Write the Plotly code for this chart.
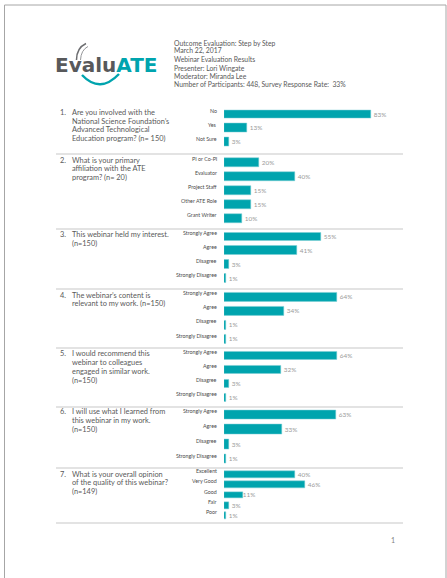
import plotly.graph_objects as go

W, H = 447, 578
TEAL = "#00a4ae"
GRAY_TXT = "#595959"
FONT = "Lato, Open Sans, sans-serif"

# ---- data ----
q1_labels = ["No", "Yes", "Not Sure"]
q1_values = [83, 13, 3]

q2_labels = ["PI or Co-PI", "Evaluator", "Project Staff", "Other ATE Role", "Grant Writer"]
q2_values = [20, 40, 15, 15, 10]

agree_labels = ["Strongly Agree", "Agree", "Disagree", "Strongly Disagree"]
q3_values = [55, 41, 3, 1]
q4_values = [64, 34, 1, 1]
q5_values = [64, 32, 3, 1]
q6_values = [63, 33, 3, 1]

q7_labels = ["Excellent", "Very Good", "Good", "Fair", "Poor"]
q7_values = [40, 46, 11, 3, 1]

questions = [
    ["Are you involved with the", "National Science Foundation’s",
     "Advanced Technological", "Education program? (n= 150)"],
    ["What is your primary", "affiliation with the ATE", "program? (n= 20)"],
    ["This webinar held my interest.", "(n=150)"],
    ["The webinar’s content is", "relevant to my work. (n=150)"],
    ["I would recommend this", "webinar to colleagues",
     "engaged in similar work.", "(n=150)"],
    ["I will use what I learned from", "this webinar in my work.", "(n=150)"],
    ["What is your overall opinion", "of the quality of this webinar?", "(n=149)"],
]

header_lines = [
    "Outcome Evaluation: Step by Step",
    "March 22, 2017",
    "Webinar Evaluation Results",
    "Presenter: Lori Wingate",
    "Moderator: Miranda Lee",
    "Number of Participants: 448, Survey Response Rate:  33%",
]

sections = [
    (q1_labels, q1_values),
    (q2_labels, q2_values),
    (agree_labels, q3_values),
    (agree_labels, q4_values),
    (agree_labels, q5_values),
    (agree_labels, q6_values),
    (q7_labels, q7_values),
]

# pixel band of each bar block (top, bottom) and first text line centre
bands = [(107.3, 149), (155, 225.3), (229.75, 285.25), (289.65, 346.05),
         (348.7, 404.7), (407.3, 466.4), (469.1, 520.9)]
first_line = [112.3, 160, 234.3, 295, 354, 411.7, 474]
LINE_STEP = 8.75
separators = [154, 229, 289, 348, 407, 468, 523]


def px(x):
    return x / W


def py(y):
    return 1 - y / H


def pt(x, y):
    return f"{px(x):.4f},{py(y):.4f}"


def label(x, y, text, size, color, **kw):
    return dict(x=px(x), y=py(y), xref="paper", yref="paper", text=text,
                showarrow=False, xanchor=kw.pop("xanchor", "left"),
                yanchor="middle", font=dict(size=size, color=color, family=FONT),
                **kw)


fig = go.Figure()
annotations = []
shapes = []
layout_axes = {}

for i, (labels, values) in enumerate(sections, start=1):
    sfx = "" if i == 1 else str(i)
    fig.add_trace(go.Bar(
        x=values,
        y=labels,
        orientation="h",
        xaxis="x" + sfx,
        yaxis="y" + sfx,
        width=0.64,
        marker=dict(color=TEAL, line=dict(color="#7ccfd5", width=0.5)),
        text=[f"{v}%" for v in values],
        textposition="outside",
        constraintext="none",
        cliponaxis=False,
        textfont=dict(size=6.4, color="#9a9a9a", family=FONT),
        showlegend=False,
        hoverinfo="skip",
    ))
    top, bottom = bands[i - 1]
    n = len(labels)
    layout_axes["xaxis" + sfx] = dict(
        domain=[px(224), px(401)], range=[0, 100], visible=False,
        anchor="y" + sfx, fixedrange=True,
    )
    layout_axes["yaxis" + sfx] = dict(
        domain=[py(bottom), py(top)], type="category",
        categoryorder="array", categoryarray=labels,
        range=[n - 0.5, -0.5], visible=False,
        anchor="x" + sfx, fixedrange=True,
    )
    for lab in labels:
        annotations.append(dict(
            x=px(219), xref="paper", y=lab, yref="y" + sfx,
            text=lab, showarrow=False, xanchor="right", yanchor="middle",
            yshift=3.5, font=dict(size=5.3, color="#4a4a4a", family=FONT),
        ))
    # question number and text, one line at a time to keep the tight spacing
    y0 = first_line[i - 1]
    annotations.append(label(57.5, y0, f"{i}.", 7.4, GRAY_TXT))
    for k, line in enumerate(questions[i - 1]):
        annotations.append(label(69.5, y0 + k * LINE_STEP, line, 7.4, GRAY_TXT))

for s in separators:
    shapes.append(dict(type="line", xref="paper", yref="paper",
                       x0=px(56), x1=px(403), y0=py(s), y1=py(s),
                       line=dict(color="#dadada", width=1.3)))

# page border
shapes.append(dict(type="rect", xref="paper", yref="paper",
                   x0=px(4.5), x1=px(446), y0=py(600), y1=py(5),
                   line=dict(color="#a6a6a6", width=1)))

# header block
for k, line in enumerate(header_lines):
    annotations.append(label(171.5, 42.6 + k * 8.35, line, 6.8, GRAY_TXT))

# logo
annotations.append(dict(
    x=px(53), y=py(65.3), xref="paper", yref="paper",
    text=f"<b>Evalu<span style='color:{TEAL}'>ATE</span></b>",
    showarrow=False, xanchor="left", yanchor="middle",
    font=dict(size=20, color="#58595b", family="DejaVu Sans"),
))
shapes.append(dict(type="path", xref="paper", yref="paper",
                   path=f"M {pt(82, 75)} Q {pt(100, 94)} {pt(119, 74)}",
                   line=dict(color=TEAL, width=2.4)))
shapes.append(dict(type="path", xref="paper", yref="paper",
                   path=f"M {pt(76.5, 60)} Q {pt(76.5, 48)} {pt(86, 43.5)}",
                   line=dict(color="#6d6e71", width=1.5)))
shapes.append(dict(type="path", xref="paper", yref="paper",
                   path=f"M {pt(80.5, 60)} Q {pt(81, 50)} {pt(88, 46.5)}",
                   line=dict(color="#8a8b8e", width=0.9)))

# page number
annotations.append(label(393, 540, "1", 7, "#7f7f7f", xanchor="center"))

fig.update_layout(
    width=W, height=H,
    margin=dict(l=0, r=0, t=0, b=0),
    paper_bgcolor="white", plot_bgcolor="white",
    font=dict(family=FONT),
    annotations=annotations,
    shapes=shapes,
    bargap=0,
    **layout_axes,
)

fig.write_html(
    "out.html",
    config={"displayModeBar": False},
    post_script="document.body.style.margin='0';",
)
